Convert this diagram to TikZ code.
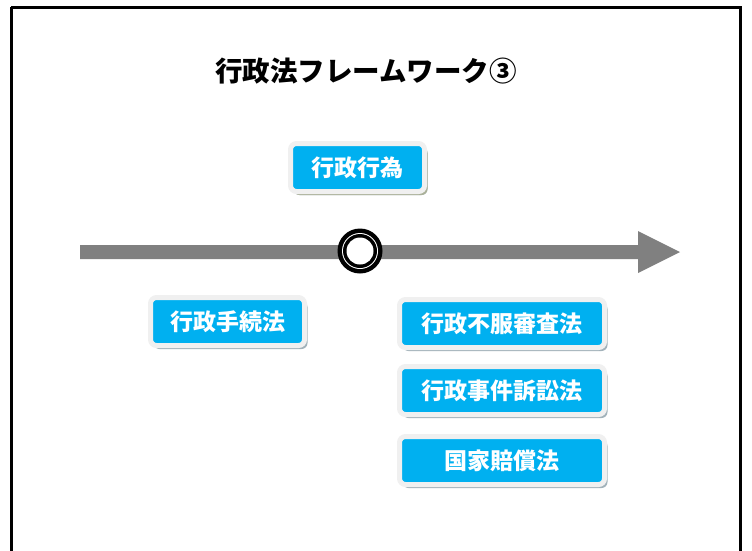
\documentclass[tikz,border=0pt]{standalone}
\usepackage{fontspec}
\newfontfamily\jpfont{Noto Sans CJK JP}
\usetikzlibrary{positioning,shadows}
\definecolor{tagblue}{HTML}{00B0F0}
\definecolor{tagrim}{HTML}{F0F0F0}
\definecolor{tagshade}{HTML}{A2B2BA}
\definecolor{tagshadeolive}{HTML}{ABB199}
\definecolor{linegray}{HTML}{808080}
\begin{document}
\begin{tikzpicture}[x=1pt, y=-1pt,
        tagbox/.style={fill=tagblue, draw=tagrim, line width=5pt, rounded corners=6pt,
            text=white, font=\jpfont\bfseries\fontsize{23}{23}\selectfont,
            minimum height=48pt, inner sep=0pt, outer sep=0pt,
            drop shadow={shadow xshift=3pt, shadow yshift=-3.5pt, fill=tagshade, opacity=1}},
        lawbox/.style={tagbox, minimum width=205pt}]
    \useasboundingbox (0, 0) rectangle (752, 550);

    \draw[line width=3pt] (11, 7) -- (740.5, 7) -- (740.5, 560) (11, 7) -- (11, 560);

    \node[font=\jpfont\bfseries\fontsize{27.5}{27.5}\selectfont] (title) at (366, 71) {行政法フレームワーク③};

    \fill[linegray] (80, 245) -- (638, 245) -- (638, 231) -- (680, 252)
        -- (638, 273) -- (638, 259) -- (80, 259) -- cycle;

    \fill[black] (360, 251) circle (22.5pt);
    \fill[white] (360, 251) circle (18pt);
    \fill[black] (360, 251) circle (17pt);
    \fill[white] (360, 251) circle (13.5pt);

    \node[tagbox, minimum width=134pt,
        drop shadow={shadow xshift=3pt, shadow yshift=-3.5pt, fill=tagshadeolive, opacity=1}]
        (act) at (357.5, 167.5) {行政行為};
    \node[tagbox, minimum width=154pt] (procedure) at (227.5, 321.5) {行政手続法};

    \node[lawbox] (appeal) at (502, 323.5) {行政不服審査法};
    \node[lawbox, below=19pt of appeal] (litigation) {行政事件訴訟法};
    \node[lawbox, below=22pt of litigation] (damages) {国家賠償法};
\end{tikzpicture}
\end{document}
